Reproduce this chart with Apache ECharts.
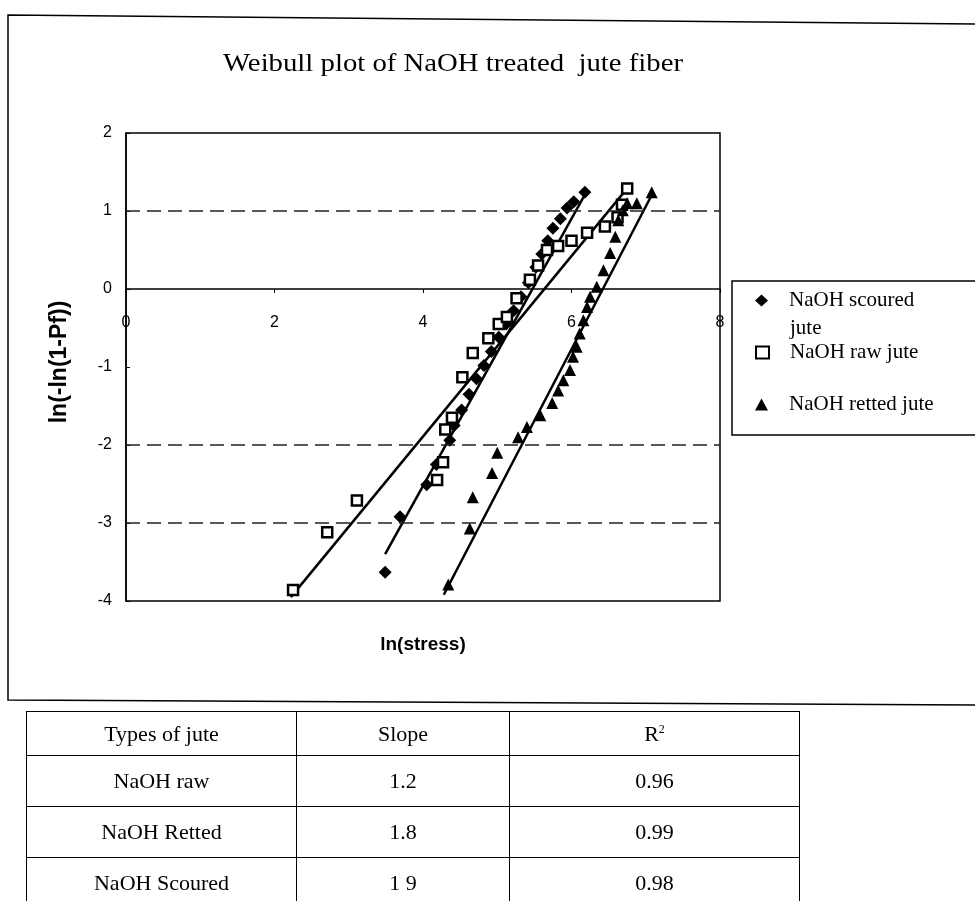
<!DOCTYPE html>
<html>
<head>
<meta charset="utf-8">
<script src="https://cdn.jsdelivr.net/npm/echarts@6/dist/echarts.min.js"></script>
<style>
  html, body { margin: 0; padding: 0; background: #fff; }
  #chart { position: absolute; left: 0; top: 0; width: 975px; height: 901px; }
  #stats {
    position: absolute; left: 26px; top: 711px;
    border-collapse: collapse;
    font-family: "Liberation Serif", "DejaVu Serif", serif;
    font-size: 22px; color: #000;
  }
  #stats td { border: 1.5px solid #000; text-align: center; padding: 0; }
  #stats sup { font-size: 12px; }
</style>
</head>
<body>
<div id="chart"></div>
<table id="stats"></table>
<script>
// values: [ln(stress), ln(-ln(1-Pf))]
const scouredPts = [[3.49,-3.63],[3.69,-2.92],[4.05,-2.51],[4.18,-2.25],[4.36,-1.94],[4.42,-1.75],[4.52,-1.55],[4.62,-1.35],[4.72,-1.15],[4.82,-0.98],[4.92,-0.8],[5.02,-0.62],[5.12,-0.45],[5.22,-0.28],[5.32,-0.1],[5.42,0.08],[5.52,0.28],[5.6,0.45],[5.68,0.62],[5.75,0.78],[5.85,0.9],[5.94,1.04],[6.03,1.12],[6.18,1.24]];
const rawPts = [[2.25,-3.86],[2.71,-3.12],[3.11,-2.71],[4.19,-2.45],[4.27,-2.22],[4.3,-1.8],[4.39,-1.65],[4.53,-1.13],[4.67,-0.82],[4.88,-0.63],[5.02,-0.45],[5.13,-0.36],[5.26,-0.12],[5.44,0.12],[5.55,0.3],[5.67,0.5],[5.82,0.55],[6.0,0.62],[6.21,0.72],[6.45,0.8],[6.62,0.92],[6.68,1.08],[6.75,1.29]];
const rettedPts = [[4.34,-3.79],[4.63,-3.07],[4.67,-2.67],[4.93,-2.36],[5.0,-2.1],[5.28,-1.9],[5.4,-1.77],[5.58,-1.62],[5.74,-1.46],[5.82,-1.3],[5.89,-1.17],[5.98,-1.04],[6.02,-0.87],[6.07,-0.74],[6.11,-0.57],[6.16,-0.4],[6.21,-0.23],[6.25,-0.1],[6.34,0.03],[6.43,0.24],[6.52,0.46],[6.59,0.67],[6.63,0.88],[6.69,1.01],[6.75,1.1],[6.88,1.1],[7.08,1.24]];

// trend line ends as drawn in the picture
const scouredTrend = [[3.49,-3.4],[6.21,1.26]];
const rawTrend = [[2.22,-3.95],[6.75,1.29]];
const rettedTrend = [[4.28,-3.92],[7.1,1.24]];

const seriesNames = ['NaOH scoured jute', 'NaOH raw jute', 'NaOH retted jute'];
const gridLevels = [1, -2, -3];

// table under the plot
const tableHead = ['Types of jute', 'Slope', 'R<sup>2</sup>'];
const juteTypes = ['NaOH raw', 'NaOH Retted', 'NaOH Scoured'];
const slopes = ['1.2', '1.8', '1 9'];
const rSquared = ['0.96', '0.99', '0.98'];

const SERIF = '"Liberation Serif", "DejaVu Serif", serif';
const SANS = '"Liberation Sans", Arial, sans-serif';

const chart = echarts.init(document.getElementById('chart'));

const trendSeries = (data) => ({
  type: 'line', data, symbol: 'none', silent: true,
  lineStyle: { color: '#000', width: 2.5 }, z: 3,
});

const legendItem = (name, top) => ({
  data: [name], left: 755, top, padding: 0, orient: 'vertical',
  itemWidth: 13, itemHeight: 12, selectedMode: false,
  formatter: (n) => n === 'NaOH scoured jute' ? 'NaOH scoured' : n,
  textStyle: { fontFamily: SERIF, fontSize: 21, color: '#000', padding: [0, 0, 0, 16] },
});

chart.setOption({
  animation: false,
  backgroundColor: '#fff',
  grid: { left: 126, top: 133, width: 594, height: 468, show: true, borderColor: '#000', borderWidth: 1.5 },
  xAxis: {
    type: 'value', min: 0, max: 8, interval: 2,
    position: 'bottom', offset: -312,
    axisLine: { onZero: false, lineStyle: { color: '#000', width: 1.5 } },
    axisTick: { length: 4, lineStyle: { color: '#000' } },
    axisLabel: { margin: 26, fontFamily: SANS, fontSize: 16, color: '#000' },
    splitLine: { show: false },
  },
  yAxis: {
    type: 'value', min: -4, max: 2, interval: 1,
    axisLine: { show: true, onZero: false, lineStyle: { color: '#000', width: 1.5 } },
    axisTick: { inside: true, length: 4, lineStyle: { color: '#000' } },
    axisLabel: { margin: 14, fontFamily: SANS, fontSize: 16, color: '#000' },
    splitLine: { show: false },
  },
  legend: [
    legendItem(seriesNames[0], 290),
    legendItem(seriesNames[1], 342),
    legendItem(seriesNames[2], 394),
  ],
  series: [
    {
      name: seriesNames[0], type: 'scatter', data: scouredPts,
      symbol: 'diamond', symbolSize: 13, itemStyle: { color: '#000', opacity: 1 }, z: 4,
      markLine: {
        silent: true, symbol: 'none', label: { show: false },
        lineStyle: { color: '#222', width: 1.5, type: [14, 7] },
        data: gridLevels.map((v) => ({ yAxis: v })),
      },
    },
    {
      name: seriesNames[1], type: 'scatter', data: rawPts,
      symbol: 'rect', symbolSize: 10,
      itemStyle: { color: '#fff', borderColor: '#000', borderWidth: 2.5, opacity: 1 }, z: 4,
    },
    {
      name: seriesNames[2], type: 'scatter', data: rettedPts,
      symbol: 'triangle', symbolSize: 12, itemStyle: { color: '#000', opacity: 1 }, z: 4,
    },
    trendSeries(scouredTrend),
    trendSeries(rawTrend),
    trendSeries(rettedTrend),
  ],
  graphic: [
    // outer frame of the chart object
    { type: 'polyline', shape: { points: [[975, 24], [8, 15], [8, 700], [975, 705]] },
      style: { stroke: '#000', lineWidth: 1.5, fill: null } },
    // legend box
    { type: 'rect', shape: { x: 732, y: 281, width: 260, height: 154 },
      style: { stroke: '#000', lineWidth: 1.5, fill: null } },
    { type: 'text', x: 790, y: 328,
      style: { text: 'jute', font: '21px ' + SERIF, fill: '#000', textVerticalAlign: 'middle' } },
    { type: 'text', x: 453, y: 64, scaleX: 1.15, originX: 0,
      style: { text: 'Weibull plot of NaOH treated  jute fiber', font: '25px ' + SERIF, fill: '#000',
        textAlign: 'center', textVerticalAlign: 'middle' } },
    { type: 'text', x: 423, y: 645,
      style: { text: 'ln(stress)', font: 'bold 19px ' + SANS, fill: '#000',
        textAlign: 'center', textVerticalAlign: 'middle' } },
    { type: 'text', x: 60, y: 362, rotation: Math.PI / 2,
      style: { text: 'ln(-ln(1-Pf))', font: 'bold 23px ' + SANS, fill: '#000',
        textAlign: 'center', textVerticalAlign: 'middle' } },
  ],
});

// stats table
const widths = [269, 212, 289];
const heights = [44, 51, 51, 51];
const rows = [tableHead].concat(juteTypes.map((t, i) => [t, slopes[i], rSquared[i]]));
document.getElementById('stats').innerHTML = rows.map((r, i) =>
  '<tr style="height:' + heights[i] + 'px">' +
  r.map((c, j) => '<td style="width:' + widths[j] + 'px">' + c + '</td>').join('') +
  '</tr>').join('');
</script>
</body>
</html>
